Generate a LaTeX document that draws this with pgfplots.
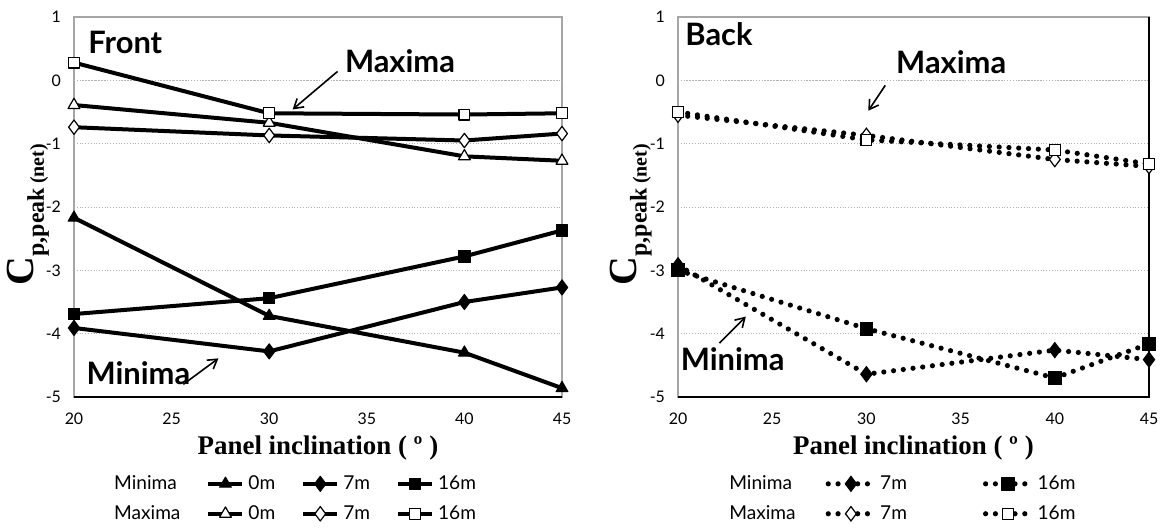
\documentclass[border=0pt]{standalone}
\usepackage{fontspec}
\setmainfont{Liberation Serif}
\newfontfamily\gill{Lato}
\usepackage{pgfplots}
\pgfplotsset{compat=1.18}
\usetikzlibrary{arrows.meta}

\tikzset{
  ann/.style={font=\gill\bfseries\fontsize{15.5}{15.5}\selectfont, inner sep=0pt},
  arr/.style={-{Straight Barb[length=4.5bp,width=5.5bp]}, line width=0.8bp, black},
}
\pgfplotsset{
  myaxis/.style={
    scale only axis, height=190bp,
    xmin=20, xmax=45, ymin=-5, ymax=1,
    xtick={20,25,30,35,40,45}, xticklabels={20,25,30,35,40,45},
    ytick={-5,-4,-3,-2,-1,0,1}, yticklabels={-5,-4,-3,-2,-1,0,1},
    ticklabel style={font=\gill\fontsize{8}{9}\selectfont},
    xticklabel style={yshift=-4.5bp},
    yticklabel style={xshift=-3bp},
    major tick length=0pt,
    ymajorgrids, major grid style={gray!60, densely dotted, line width=0.4bp},
    extra y ticks={0}, extra y tick labels={},
    extra y tick style={grid style={solid, gray!70, line width=0.5bp}},
    axis line style={gray!70, line width=0.6bp},
    clip=false,
    xlabel={\bfseries\fontsize{13.5}{14}\selectfont Panel inclination ( º )},
    every axis x label/.style={at={(axis description cs:0.5,0)}, anchor=center, yshift=-25.5bp},
    ylabel={\bfseries\fontsize{20}{20}\selectfont C\raisebox{-0.25em}{\fontsize{12}{12}\selectfont p,peak\,\fontsize{10}{10}\selectfont(net)}},
    legend cell align=left,
  },
  sl/.style={black, line width=2bp, line join=round},
  dl/.style={black, line width=2.6bp, line cap=round, dash pattern=on 0bp off 4.9bp},
  ftri/.style={mark=triangle*, mark size=3.4bp, mark options={solid, fill=black, line width=0.5bp}},
  fdia/.style={mark=diamond*, mark size=3.8bp, mark options={solid, fill=black, line width=0.5bp}},
  fsq/.style={mark=square*, mark size=2.8bp, mark options={solid, fill=black, line width=0.5bp}},
  otri/.style={mark=triangle*, mark size=3.4bp, mark options={solid, fill=white, draw=black, line width=0.6bp}},
  odia/.style={mark=diamond*, mark size=3.6bp, mark options={solid, fill=white, draw=black, line width=0.6bp}},
  osq/.style={mark=square*, mark size=2.7bp, mark options={solid, fill=white, draw=black, line width=0.6bp}},
}

\begin{document}
\begin{tikzpicture}
\useasboundingbox (-37bp,-66.5bp) rectangle (543bp,198.5bp);

% ---------------- Front ----------------
\begin{axis}[myaxis, width=244bp, at={(0bp,0bp)}, anchor=south west,
  every axis y label/.style={at={(axis description cs:-0.094,0.48)}, rotate=90, anchor=center},
  legend columns=4,
  legend style={draw=none, fill=none, font=\gill\fontsize{9.6}{10}\selectfont,
    at={(axis description cs:0.061,0)}, anchor=north west, yshift=-35bp,
    row sep=2.5bp,
    /tikz/every even column/.append style={column sep=11bp}},
]
\addlegendimage{empty legend}\addlegendentry{Minima}
\addplot[sl, ftri] coordinates {(20,-2.17)(30,-3.72)(40,-4.30)(45,-4.86)};
\addlegendentry{0m}
\addplot[sl, fdia] coordinates {(20,-3.91)(30,-4.28)(40,-3.50)(45,-3.27)};
\addlegendentry{7m}
\addplot[sl, fsq] coordinates {(20,-3.69)(30,-3.44)(40,-2.78)(45,-2.37)};
\addlegendentry{16m}
\addlegendimage{empty legend}\addlegendentry{Maxima}
\addplot[sl, otri] coordinates {(20,-0.39)(30,-0.67)(40,-1.20)(45,-1.27)};
\addlegendentry{0m}
\addplot[sl, odia] coordinates {(20,-0.74)(30,-0.87)(40,-0.95)(45,-0.84)};
\addlegendentry{7m}
\addplot[sl, osq] coordinates {(20,0.28)(30,-0.52)(40,-0.54)(45,-0.52)};
\addlegendentry{16m}

\draw[black, line width=0.7bp] (axis cs:20,-5) -- (axis cs:45,-5);
\node[ann, anchor=west] at (axis cs:20.72,0.60) {Front};
\node[ann] at (axis cs:36.7,0.31) {Maxima};
\draw[arr] (axis cs:33.5,0.14) -- (axis cs:31.2,-0.46);
\node[ann] at (axis cs:23.3,-4.63) {Minima};
\draw[arr] (axis cs:25.6,-4.80) -- (axis cs:27.4,-4.39);
\end{axis}

% ---------------- Back ----------------
\begin{axis}[myaxis, width=235.5bp, at={(302bp,0bp)}, anchor=south west,
  every axis y label/.style={at={(axis description cs:-0.1,0.48)}, rotate=90, anchor=center},
  legend columns=3,
  legend image code/.code={\draw[mark repeat=2,mark phase=2] plot coordinates {(0cm,0cm)(0.4cm,0cm)(0.8cm,0cm)};},
  legend style={draw=none, fill=none, font=\gill\fontsize{9.6}{10}\selectfont,
    at={(axis description cs:0.087,0)}, anchor=north west, yshift=-35bp,
    row sep=2.5bp,
    /tikz/column 2/.style={column sep=13bp},
    /tikz/column 4/.style={column sep=36bp}},
]
\addlegendimage{empty legend}\addlegendentry{Minima}
\addplot[dl, fdia] coordinates {(20,-2.92)(30,-4.64)(40,-4.26)(45,-4.41)};
\addlegendentry{7m}
\addplot[dl, fsq, mark size=3.2bp] coordinates {(20,-3.00)(30,-3.92)(40,-4.70)(45,-4.16)};
\addlegendentry{16m}
\addlegendimage{empty legend}\addlegendentry{Maxima}
\addplot[dl, odia] coordinates {(20,-0.55)(30,-0.87)(40,-1.25)(45,-1.36)};
\addlegendentry{7m}
\addplot[dl, osq] coordinates {(20,-0.50)(30,-0.94)(40,-1.10)(45,-1.32)};
\addlegendentry{16m}

\draw[black, line width=0.7bp] (axis cs:20,-5) -- (axis cs:45,-5) -- (axis cs:45,1);
\node[ann, anchor=west] at (axis cs:20.37,0.73) {Back};
\node[ann] at (axis cs:34.5,0.29) {Maxima};
\draw[arr] (axis cs:31.0,-0.08) -- (axis cs:30.1,-0.48);
\node[ann] at (axis cs:22.9,-4.41) {Minima};
\draw[arr] (axis cs:22.2,-4.15) -- (axis cs:23.6,-3.73);
\end{axis}
\end{tikzpicture}
\end{document}
